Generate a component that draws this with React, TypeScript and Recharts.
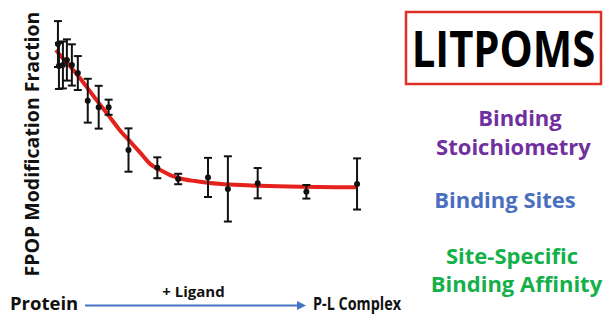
import React from 'react';
import { ComposedChart, Line, Scatter, ErrorBar, XAxis, YAxis } from 'recharts';

// measured points (ligand amount in arbitrary units, FPOP fraction, error)
const ligand = [0.9, 1.0, 1.4, 1.8, 2.3, 2.9, 3.9, 5.0, 6.0, 8.0, 10.9, 13.0, 16.0, 18.0, 21.0, 25.9, 31.0];
const fraction = [0.881, 0.797, 0.801, 0.82, 0.801, 0.77, 0.664, 0.639, 0.639, 0.475, 0.407, 0.364, 0.37, 0.326, 0.348, 0.315, 0.345];
const errors = [0.088, 0.088, 0.09, 0.079, 0.079, 0.065, 0.084, 0.082, 0.029, 0.083, 0.04, 0.02, 0.075, 0.125, 0.058, 0.026, 0.098];

// fitted curve
const fitX = [0.7, 1.1, 2.1, 3.1, 4.1, 5.1, 6.1, 7.1, 8.2, 9.2, 10.2, 11.2, 12.2, 13.2, 14.7, 16.2, 18.2, 21.2, 25.3, 31.0];
const fitY = [0.858, 0.839, 0.797, 0.751, 0.701, 0.651, 0.602, 0.552, 0.506, 0.464, 0.421, 0.398, 0.379, 0.366, 0.356, 0.349, 0.343, 0.338, 0.334, 0.332];

const yLabel = 'FPOP Modification Fraction';
const startLabel = 'Protein';
const arrowLabel = '+ Ligand';
const endLabel = 'P-L Complex';
const title = 'LITPOMS';

const FONT = "'Open Sans', sans-serif";
const PURPLE = '#7030A0';
const BLUE = '#4A6FC0';
const GREEN = '#14B04A';

const points = ligand.map((x, i) => ({ x, y: fraction[i], err: errors[i] }));
const curve = fitX.map((x, i) => ({ x, fit: fitY[i] }));

const Dot = (props: any) => <circle cx={props.cx} cy={props.cy} r={3} fill="#111" />;

export default function App() {
    return (
        <div style={{ position: 'relative', width: 606, height: 314, background: '#fff' }}>
            <style>{'body{margin:0}'}</style>
            <ComposedChart width={606} height={314} margin={{ top: 13, right: 239, bottom: 40, left: 49 }}>
                <XAxis
                    type="number"
                    dataKey="x"
                    domain={[0, 32]}
                    height={0}
                    tick={false}
                    tickLine={false}
                    axisLine={{ stroke: '#3a3a3a', strokeWidth: 2 }}
                />
                <YAxis
                    type="number"
                    domain={[0, 1]}
                    width={0}
                    tick={false}
                    tickLine={false}
                    axisLine={{ stroke: '#3a3a3a', strokeWidth: 2 }}
                />
                <Line
                    data={curve}
                    dataKey="fit"
                    type="monotone"
                    stroke="#E4221B"
                    strokeWidth={4}
                    dot={false}
                    activeDot={false}
                    isAnimationActive={false}
                />
                <Scatter data={points} dataKey="y" shape={Dot} isAnimationActive={false}>
                    <ErrorBar dataKey="err" direction="y" width={4} stroke="#111" strokeWidth={2} />
                </Scatter>
            </ComposedChart>

            <svg
                width={606}
                height={314}
                style={{ position: 'absolute', left: 0, top: 0, pointerEvents: 'none' }}
                fontFamily={FONT}
                fontWeight={700}
            >
                <text x={39} y={144} transform="rotate(-90 39 144)" textAnchor="middle" fontSize={19.5} fill="#111">
                    {yLabel}
                </text>

                <text x={10} y={309.5} fontSize={18.5} fill="#111">{startLabel}</text>
                <line x1={85} y1={305.5} x2={298} y2={305.5} stroke="#4472C4" strokeWidth={2} />
                <polygon points="297,301 306,305.5 297,310" fill="#4472C4" />
                <text x={193.5} y={296.5} textAnchor="middle" fontSize={15} fill="#111">{arrowLabel}</text>
                <text x={313} y={309.5} fontSize={18.5} fill="#111" textLength={88} lengthAdjust="spacingAndGlyphs">
                    {endLabel}
                </text>

                <rect x={406} y={12} width={195} height={72} fill="#fff" stroke="#E0302A" strokeWidth={2.5} />
                <g transform="translate(503.5 67) scale(0.82 1)">
                    <text x={0} y={0} textAnchor="middle" fontSize={51} fill="#000">{title}</text>
                </g>

                <text x={520} y={126} textAnchor="middle" fontSize={22} fill={PURPLE}>Binding</text>
                <text x={513.5} y={154.5} textAnchor="middle" fontSize={22} fill={PURPLE}>Stoichiometry</text>
                <text x={505} y={207.5} textAnchor="middle" fontSize={22} fill={BLUE}>Binding Sites</text>
                <text x={512} y={263.5} textAnchor="middle" fontSize={22} fill={GREEN}>Site-Specific</text>
                <text x={516.5} y={291.5} textAnchor="middle" fontSize={22} fill={GREEN}>Binding Affinity</text>
            </svg>
        </div>
    );
}
